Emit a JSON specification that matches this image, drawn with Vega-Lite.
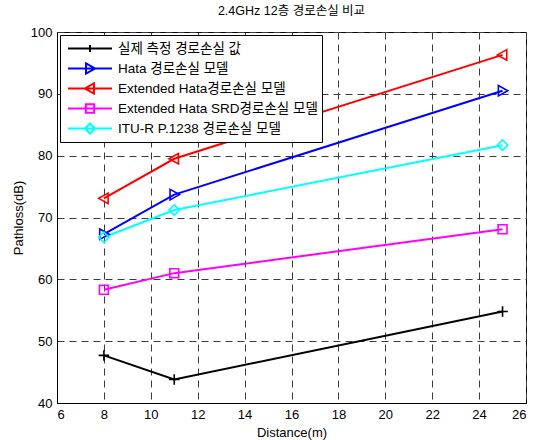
{
  "$schema": "https://vega.github.io/schema/vega-lite/v6.json",
  "width": 469,
  "height": 371,
  "autosize": {"type": "none"},
  "padding": {"left": 57, "top": 32, "right": 7, "bottom": 37},
  "background": "white",
  "title": {"text": "2.4GHz 12층 경로손실 비교", "fontSize": 12.5, "fontWeight": "normal", "font": "Liberation Sans, Noto Sans CJK KR", "offset": 9, "color": "black"},
  "config": {
    "view": {"stroke": "black", "strokeWidth": 1},
    "font": "Liberation Sans, Noto Sans CJK KR",
    "axis": {"domainColor": "black", "labelColor": "black", "titleColor": "black", "labelFontSize": 13, "titleFontSize": 13, "titleFontWeight": "normal", "gridColor": "#3a3a3a", "gridDash": [7, 5], "gridOpacity": 1, "ticks": false, "labelPadding": 5, "titlePadding": 5, "labelFont": "Liberation Sans", "titleFont": "Liberation Sans"}
  },
  "datasets": {
    "pl": [
      {"series": "실제 측정 경로손실 값", "d": 8, "pl": 47.7},
      {"series": "실제 측정 경로손실 값", "d": 11, "pl": 43.8},
      {"series": "실제 측정 경로손실 값", "d": 25, "pl": 54.8},
      {"series": "Hata 경로손실 모델", "d": 8, "pl": 67.3},
      {"series": "Hata 경로손실 모델", "d": 11, "pl": 73.7},
      {"series": "Hata 경로손실 모델", "d": 25, "pl": 90.5},
      {"series": "Extended Hata경로손실 모델", "d": 8, "pl": 73.1},
      {"series": "Extended Hata경로손실 모델", "d": 11, "pl": 79.5},
      {"series": "Extended Hata경로손실 모델", "d": 25, "pl": 96.3},
      {"series": "Extended Hata SRD경로손실 모델", "d": 8, "pl": 58.3},
      {"series": "Extended Hata SRD경로손실 모델", "d": 11, "pl": 61.0},
      {"series": "Extended Hata SRD경로손실 모델", "d": 25, "pl": 68.1},
      {"series": "ITU-R P.1238  경로손실 모델", "d": 8, "pl": 66.8},
      {"series": "ITU-R P.1238  경로손실 모델", "d": 11, "pl": 71.2},
      {"series": "ITU-R P.1238  경로손실 모델", "d": 25, "pl": 81.7}
    ]
  },
  "data": {"name": "pl"},
  "encoding": {
    "x": {"field": "d", "type": "quantitative", "title": "Distance(m)", "scale": {"domain": [6, 26], "nice": false}, "axis": {"values": [6, 8, 10, 12, 14, 16, 18, 20, 22, 24, 26]}},
    "y": {"field": "pl", "type": "quantitative", "title": "Pathloss(dB)", "scale": {"domain": [40, 100], "nice": false}, "axis": {"values": [40, 50, 60, 70, 80, 90, 100]}}
  },
  "layer": [
    {
      "layer": [
        {
          "mark": {"type": "line", "strokeWidth": 2},
          "encoding": {
            "color": {"field": "series", "type": "nominal", "legend": null, "scale": {"domain": ["실제 측정 경로손실 값", "Hata 경로손실 모델", "Extended Hata경로손실 모델", "Extended Hata SRD경로손실 모델", "ITU-R P.1238  경로손실 모델"], "range": ["#000000", "#0000ff", "#ff0000", "#ff00ff", "#00ffff"]}}
          }
        },
        {
          "mark": {"type": "point", "filled": false, "strokeWidth": 1.6, "size": 110, "opacity": 1},
          "encoding": {
            "color": {"field": "series", "type": "nominal", "legend": null, "scale": {"domain": ["실제 측정 경로손실 값", "Hata 경로손실 모델", "Extended Hata경로손실 모델", "Extended Hata SRD경로손실 모델", "ITU-R P.1238  경로손실 모델"], "range": ["#000000", "#0000ff", "#ff0000", "#ff00ff", "#00ffff"]}},
            "shape": {"field": "series", "type": "nominal", "legend": null, "scale": {"domain": ["실제 측정 경로손실 값", "Hata 경로손실 모델", "Extended Hata경로손실 모델", "Extended Hata SRD경로손실 모델", "ITU-R P.1238  경로손실 모델"], "range": ["M-1,0L1,0M0,-1L0,1", "M-0.8,-1L1,0L-0.8,1Z", "M0.8,-1L-1,0L0.8,1Z", "M-0.85,-0.85L0.85,-0.85L0.85,0.85L-0.85,0.85Z", "M0,-1L1,0L0,1L-1,0Z"]}}
          }
        }
      ]
    },
    {
      "transform": [{"filter": "false"}],
      "mark": {"type": "point", "filled": false, "strokeWidth": 2, "size": 1936, "opacity": 1},
      "encoding": {
        "color": {"field": "series", "type": "nominal", "scale": {"domain": ["실제 측정 경로손실 값", "Hata 경로손실 모델", "Extended Hata경로손실 모델", "Extended Hata SRD경로손실 모델", "ITU-R P.1238  경로손실 모델"], "range": ["#000000", "#0000ff", "#ff0000", "#ff00ff", "#00ffff"]},
          "legend": {"title": null, "orient": "top-left", "offset": 3, "padding": 4, "symbolOffset": 3, "fillColor": "white", "strokeColor": "black", "labelFontSize": 13.5, "labelColor": "black", "labelOffset": 5, "rowPadding": 1, "clipHeight": 19, "symbolStrokeWidth": 2, "symbolSize": 1936, "labelLimit": 400, "zindex": 2}},
        "shape": {"field": "series", "type": "nominal", "scale": {"domain": ["실제 측정 경로손실 값", "Hata 경로손실 모델", "Extended Hata경로손실 모델", "Extended Hata SRD경로손실 모델", "ITU-R P.1238  경로손실 모델"], "range": ["M-1,0L1,0M0,-0.16L0,0.16M-0.16,0L0.16,0", "M-1,0L1,0M-0.18,-0.23L0.23,0L-0.18,0.23Z", "M-1,0L1,0M0.18,-0.23L-0.23,0L0.18,0.23Z", "M-1,0L1,0M-0.19,-0.19L0.19,-0.19L0.19,0.19L-0.19,0.19Z", "M-1,0L1,0M0,-0.23L0.23,0L0,0.23L-0.23,0Z"]},
          "legend": {"title": null, "orient": "top-left", "offset": 3, "padding": 4, "symbolOffset": 3, "fillColor": "white", "strokeColor": "black", "labelFontSize": 13.5, "labelColor": "black", "labelOffset": 5, "rowPadding": 1, "clipHeight": 19, "symbolStrokeWidth": 2, "symbolSize": 1936, "labelLimit": 400, "zindex": 2}}
      }
    }
  ],
  "resolve": {"scale": {"color": "independent", "shape": "independent"}}
}
